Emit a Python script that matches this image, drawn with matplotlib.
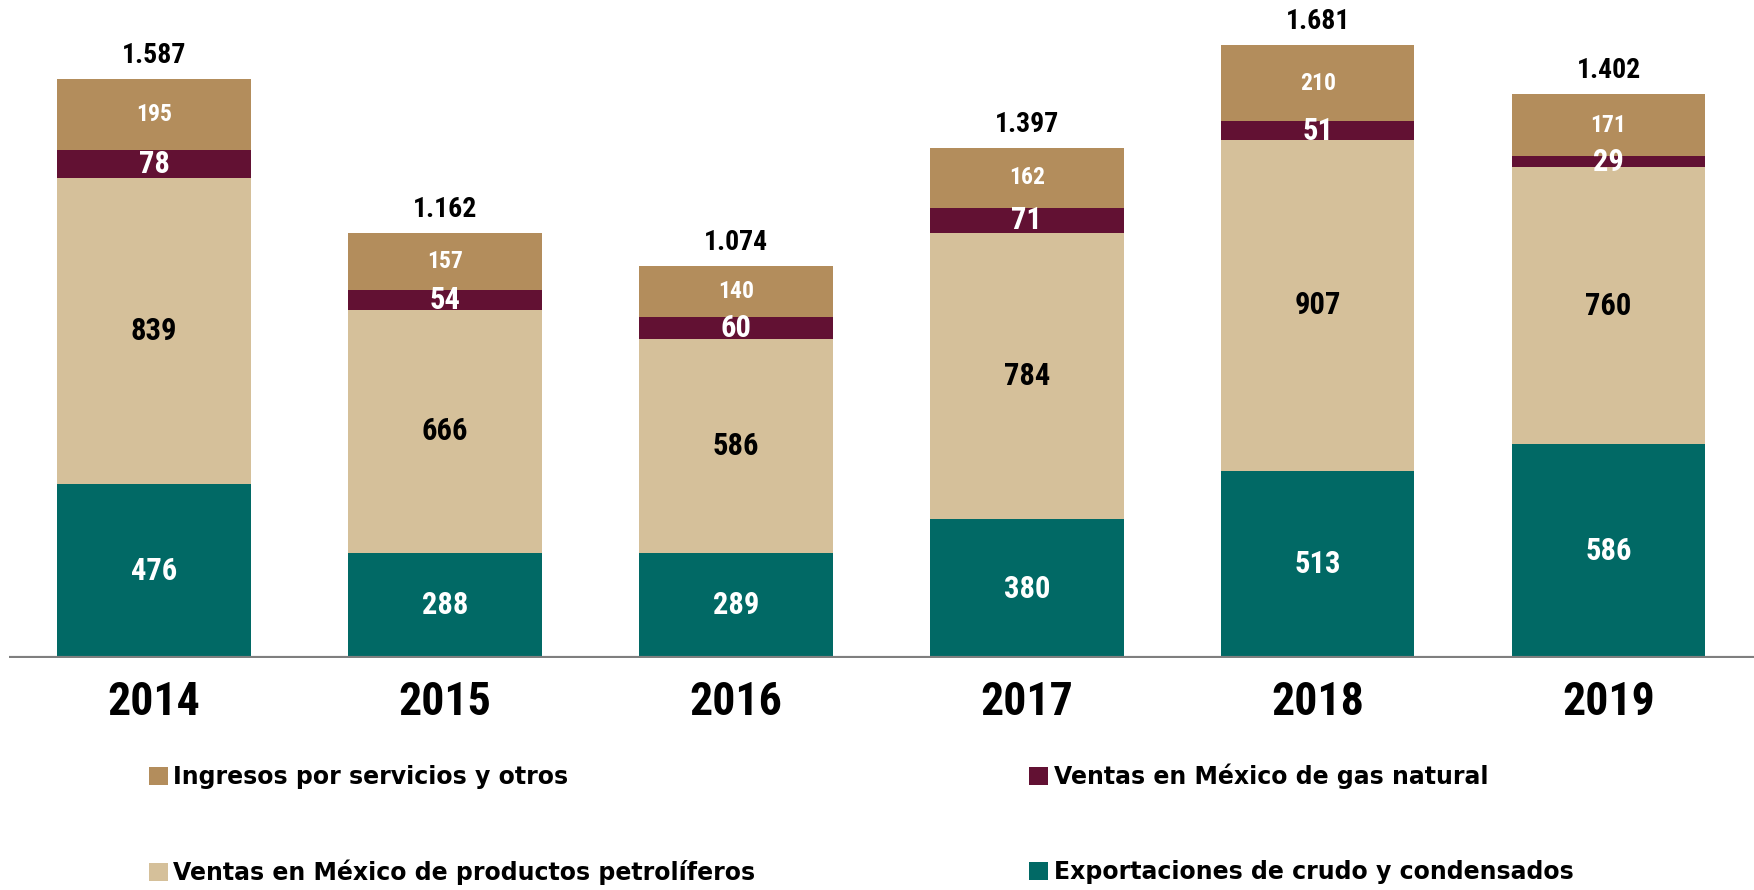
import matplotlib
matplotlib.use('Agg')
import matplotlib.pyplot as plt
from matplotlib import font_manager
import numpy as np

# fuente estrecha si existe, si no Liberation Sans
nombres = {f.name for f in font_manager.fontManager.ttflist}
narrow = 'Liberation Sans'
for cand in ['Liberation Sans Narrow', 'Roboto Condensed', 'Open Sans Condensed', 'DejaVu Sans Condensed']:
    if cand in nombres:
        narrow = cand
        break
plt.rcParams['font.family'] = [narrow, 'DejaVu Sans']
es_narrow = narrow != 'Liberation Sans'

years = ['2014', '2015', '2016', '2017', '2018', '2019']
exportaciones = [476, 288, 289, 380, 513, 586]
petroliferos = [839, 666, 586, 784, 907, 760]
gas_natural = [78, 54, 60, 71, 51, 29]
servicios = [195, 157, 140, 162, 210, 171]
totales = ['1.587', '1.162', '1.074', '1.397', '1.681', '1.402']

c_export = '#016965'
c_petro = '#D5C09A'
c_gas = '#621133'
c_serv = '#B38D5C'

k = 1.0 if es_narrow else 0.82

fig = plt.figure(figsize=(17.54, 8.9), dpi=100)
ax = fig.add_axes([0.005, 0.2607, 0.995, 0.7393])

x = np.arange(len(years))
w = 0.665

b1 = ax.bar(x, exportaciones, w, color=c_export, label='Exportaciones de crudo y condensados')
bottom = np.array(exportaciones)
b2 = ax.bar(x, petroliferos, w, bottom=bottom, color=c_petro, label='Ventas en México de productos petrolíferos')
bottom = bottom + np.array(petroliferos)
b3 = ax.bar(x, gas_natural, w, bottom=bottom, color=c_gas, label='Ventas en México de gas natural')
bottom = bottom + np.array(gas_natural)
b4 = ax.bar(x, servicios, w, bottom=bottom, color=c_serv, label='Ingresos por servicios y otros')
top = bottom + np.array(servicios)

ax.bar_label(b1, labels=[str(v) for v in exportaciones], label_type='center',
             color='white', fontsize=22 * k, fontweight='bold')
ax.bar_label(b2, labels=[str(v) for v in petroliferos], label_type='center',
             color='black', fontsize=22 * k, fontweight='bold')
ax.bar_label(b3, labels=[str(v) for v in gas_natural], label_type='center',
             color='white', fontsize=22 * k, fontweight='bold')
ax.bar_label(b4, labels=[str(v) for v in servicios], label_type='center',
             color='white', fontsize=17 * k, fontweight='bold')

for xi, t, lab in zip(x, top, totales):
    ax.annotate(lab, (xi, t), xytext=(0, 17), textcoords='offset points',
                ha='center', va='center', fontsize=20 * k, fontweight='bold')

ax.axhline(0, color='#7F7F7F', linewidth=3, zorder=3)

ax.set_xlim(-0.5, 5.5)
ax.set_ylim(0, 1804)
ax.set_xticks(x)
ax.set_xticklabels(years, fontsize=33 * k, fontweight='bold')
ax.tick_params(axis='x', length=0, pad=16)
ax.set_yticks([])
for s in ax.spines.values():
    s.set_visible(False)

handles = [b4, b2, b3, b1]
fig.legend(handles, [h.get_label() for h in handles], ncol=2, frameon=False,
           loc='upper left', bbox_to_anchor=(0.085, 0.142), borderaxespad=0,
           borderpad=0, prop={'family': ['DejaVu Sans'], 'weight': 'bold', 'size': 17},
           handlelength=0.78, handleheight=0.78, handletextpad=0.25,
           labelspacing=3.0, columnspacing=11.6)

fig.savefig('out.png', dpi=100)
